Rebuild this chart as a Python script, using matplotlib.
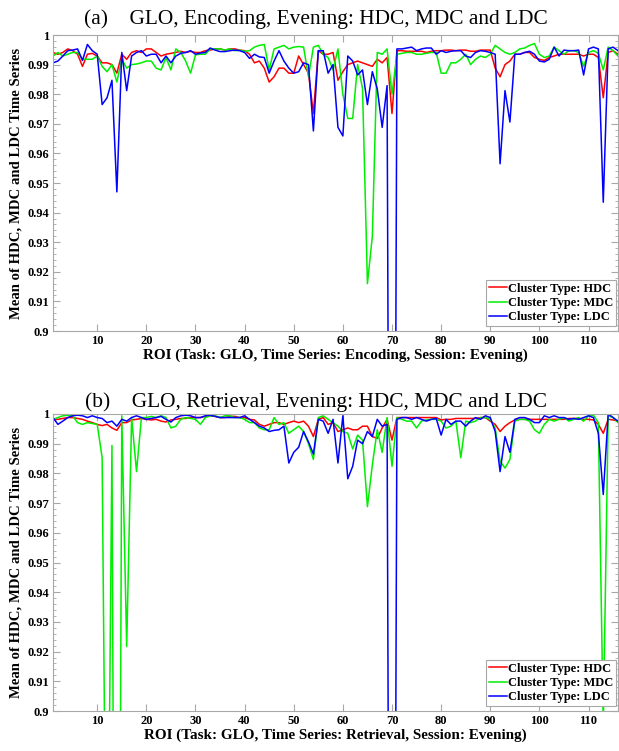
import matplotlib
matplotlib.use('Agg')
import matplotlib.pyplot as plt
import numpy as np
from matplotlib.ticker import AutoMinorLocator, FormatStrFormatter, MultipleLocator

plt.rcParams['font.family'] = ['Liberation Serif', 'DejaVu Serif']

roi = np.arange(1, 117)
labels = ['Cluster Type: HDC', 'Cluster Type: MDC', 'Cluster Type: LDC']
colors = ['#ff0000', '#00ee00', '#0000ff']

# (a) Encoding
enc_hdc = [0.9941, 0.9935, 0.9941, 0.9953, 0.9947, 0.9935, 0.9894, 0.9935, 0.9938, 0.9929,
           0.9906, 0.9906, 0.9900, 0.9871, 0.9935, 0.9918, 0.9941, 0.9947, 0.9941, 0.9953,
           0.9953, 0.9941, 0.9929, 0.9935, 0.9938, 0.9941, 0.9945, 0.9941, 0.9945, 0.9941,
           0.9941, 0.9947, 0.9949, 0.9953, 0.9953, 0.9949, 0.9953, 0.9953, 0.9949, 0.9947,
           0.9935, 0.9906, 0.9912, 0.9888, 0.9841, 0.9859, 0.9888, 0.9888, 0.9871, 0.9871,
           0.9929, 0.9900, 0.9871, 0.9735, 0.9947, 0.9935, 0.9935, 0.9941, 0.9847, 0.9876,
           0.9900, 0.9906, 0.9912, 0.9906, 0.9900, 0.9894, 0.9918, 0.9906, 0.9924, 0.9735,
           0.9947, 0.9947, 0.9945, 0.9945, 0.9945, 0.9945, 0.9941, 0.9945, 0.9947, 0.9947,
           0.9949, 0.9949, 0.9947, 0.9949, 0.9949, 0.9945, 0.9945, 0.9949, 0.9949, 0.9949,
           0.9888, 0.9859, 0.9900, 0.9912, 0.9935, 0.9935, 0.9941, 0.9941, 0.9924, 0.9918,
           0.9914, 0.9924, 0.9929, 0.9935, 0.9935, 0.9935, 0.9935, 0.9935, 0.9929, 0.9935,
           0.9935, 0.9924, 0.9788, 0.9941, 0.9947, 0.9935]
enc_mdc = [0.9929, 0.9941, 0.9929, 0.9935, 0.9941, 0.9941, 0.9918, 0.9918, 0.9918, 0.9929,
           0.9894, 0.9876, 0.9900, 0.9841, 0.9918, 0.9888, 0.9900, 0.9902, 0.9906, 0.9912,
           0.9912, 0.9888, 0.9882, 0.9924, 0.9882, 0.9953, 0.9941, 0.9912, 0.9871, 0.9933,
           0.9935, 0.9935, 0.9953, 0.9953, 0.9953, 0.9949, 0.9953, 0.9947, 0.9949, 0.9945,
           0.9947, 0.9959, 0.9965, 0.9968, 0.9882, 0.9953, 0.9959, 0.9965, 0.9953, 0.9959,
           0.9961, 0.9959, 0.9859, 0.9959, 0.9965, 0.9935, 0.9924, 0.9882, 0.9953, 0.9800,
           0.9718, 0.9718, 0.9900, 0.9820, 0.9160, 0.9320, 0.9941, 0.9935, 0.9953, 0.9800,
           0.9935, 0.9938, 0.9941, 0.9941, 0.9935, 0.9935, 0.9938, 0.9941, 0.9941, 0.9871,
           0.9871, 0.9906, 0.9906, 0.9918, 0.9935, 0.9900, 0.9918, 0.9929, 0.9924, 0.9935,
           0.9965, 0.9953, 0.9941, 0.9935, 0.9941, 0.9953, 0.9956, 0.9965, 0.9971, 0.9935,
           0.9924, 0.9929, 0.9959, 0.9947, 0.9935, 0.9947, 0.9947, 0.9941, 0.9894, 0.9941,
           0.9947, 0.9938, 0.9882, 0.9959, 0.9947, 0.9929]
enc_ldc = [0.9906, 0.9912, 0.9929, 0.9947, 0.9949, 0.9953, 0.9914, 0.9968, 0.9947, 0.9935,
           0.9765, 0.9788, 0.9847, 0.9470, 0.9941, 0.9812, 0.9929, 0.9941, 0.9947, 0.9929,
           0.9935, 0.9935, 0.9906, 0.9929, 0.9906, 0.9929, 0.9938, 0.9941, 0.9947, 0.9935,
           0.9939, 0.9941, 0.9956, 0.9949, 0.9944, 0.9944, 0.9947, 0.9949, 0.9947, 0.9941,
           0.9921, 0.9935, 0.9926, 0.9924, 0.9871, 0.9912, 0.9947, 0.9912, 0.9888, 0.9871,
           0.9876, 0.9906, 0.9900, 0.9676, 0.9947, 0.9947, 0.9871, 0.9900, 0.9688, 0.9659,
           0.9929, 0.9912, 0.9865, 0.9882, 0.9765, 0.9876, 0.9818, 0.9688, 0.9829, 0.5500,
           0.9953, 0.9953, 0.9956, 0.9959, 0.9947, 0.9953, 0.9956, 0.9956, 0.9935, 0.9947,
           0.9941, 0.9945, 0.9947, 0.9947, 0.9929, 0.9924, 0.9941, 0.9947, 0.9945, 0.9941,
           0.9935, 0.9565, 0.9812, 0.9706, 0.9935, 0.9935, 0.9941, 0.9945, 0.9935, 0.9912,
           0.9909, 0.9918, 0.9959, 0.9929, 0.9949, 0.9947, 0.9947, 0.9949, 0.9865, 0.9953,
           0.9959, 0.9953, 0.9435, 0.9953, 0.9959, 0.9947]

# (b) Retrieval
ret_hdc = [0.9982, 0.9982, 0.9985, 0.9988, 0.9988, 0.9985, 0.9982, 0.9976, 0.9971, 0.9965,
           0.9961, 0.9965, 0.9953, 0.9945, 0.9971, 0.9971, 0.9980, 0.9982, 0.9985, 0.9982,
           0.9980, 0.9982, 0.9976, 0.9973, 0.9980, 0.9982, 0.9985, 0.9985, 0.9988, 0.9988,
           0.9988, 0.9992, 0.9994, 0.9992, 0.9988, 0.9988, 0.9992, 0.9992, 0.9988, 0.9988,
           0.9982, 0.9980, 0.9965, 0.9959, 0.9965, 0.9971, 0.9971, 0.9965, 0.9971, 0.9976,
           0.9971, 0.9976, 0.9959, 0.9924, 0.9982, 0.9988, 0.9965, 0.9971, 0.9941, 0.9947,
           0.9953, 0.9947, 0.9947, 0.9959, 0.9959, 0.9924, 0.9918, 0.9953, 0.9982, 0.9912,
           0.9988, 0.9988, 0.9988, 0.9988, 0.9988, 0.9988, 0.9988, 0.9988, 0.9988, 0.9980,
           0.9982, 0.9982, 0.9985, 0.9985, 0.9985, 0.9985, 0.9985, 0.9988, 0.9988, 0.9976,
           0.9965, 0.9941, 0.9959, 0.9971, 0.9980, 0.9982, 0.9982, 0.9982, 0.9982, 0.9982,
           0.9982, 0.9982, 0.9982, 0.9982, 0.9982, 0.9985, 0.9985, 0.9985, 0.9982, 0.9982,
           0.9980, 0.9965, 0.9935, 0.9982, 0.9980, 0.9976]
ret_mdc = [0.9982, 0.9988, 0.9994, 0.9996, 0.9994, 0.9971, 0.9965, 0.9971, 0.9968, 0.9965,
           0.9853, 0.8000, 0.9894, 0.6000, 0.9994, 0.9217, 0.9988, 0.9806, 0.9988, 0.9988,
           0.9992, 0.9988, 0.9994, 0.9988, 0.9953, 0.9959, 0.9982, 0.9988, 0.9985, 0.9982,
           0.9965, 0.9988, 0.9994, 0.9994, 0.9988, 0.9994, 0.9994, 0.9988, 0.9988, 0.9982,
           0.9971, 0.9971, 0.9953, 0.9947, 0.9947, 0.9988, 0.9965, 0.9971, 0.9935, 0.9947,
           0.9959, 0.9941, 0.9900, 0.9847, 0.9988, 0.9994, 0.9982, 0.9971, 0.9959, 0.9941,
           0.9935, 0.9882, 0.9929, 0.9912, 0.9688, 0.9829, 0.9947, 0.9871, 0.9988, 0.9824,
           0.9988, 0.9982, 0.9976, 0.9976, 0.9953, 0.9976, 0.9980, 0.9982, 0.9982, 0.9976,
           0.9953, 0.9959, 0.9976, 0.9853, 0.9976, 0.9971, 0.9976, 0.9988, 0.9988, 0.9982,
           0.9953, 0.9841, 0.9818, 0.9847, 0.9976, 0.9982, 0.9982, 0.9976, 0.9947, 0.9935,
           0.9965, 0.9982, 0.9976, 0.9982, 0.9988, 0.9976, 0.9982, 0.9988, 0.9976, 0.9994,
           0.9996, 0.9971, 0.8950, 0.9994, 0.9988, 0.9971]
ret_ldc = [0.9988, 0.9965, 0.9976, 0.9988, 0.9994, 0.9996, 0.9994, 0.9988, 0.9994, 0.9988,
           0.9985, 0.9971, 0.9976, 0.9959, 0.9982, 0.9976, 0.9988, 0.9994, 0.9988, 0.9982,
           0.9985, 0.9988, 0.9992, 0.9982, 0.9973, 0.9988, 0.9994, 0.9996, 0.9994, 0.9988,
           0.9988, 0.9994, 0.9996, 0.9992, 0.9988, 0.9988, 0.9988, 0.9988, 0.9988, 0.9994,
           0.9982, 0.9971, 0.9959, 0.9953, 0.9941, 0.9945, 0.9947, 0.9959, 0.9835, 0.9871,
           0.9888, 0.9941, 0.9906, 0.9865, 0.9982, 0.9976, 0.9935, 0.9982, 0.9835, 0.9994,
           0.9782, 0.9824, 0.9912, 0.9900, 0.9941, 0.9924, 0.9982, 0.9959, 0.9965, 0.5500,
           0.9982, 0.9988, 0.9988, 0.9982, 0.9988, 0.9982, 0.9976, 0.9982, 0.9985, 0.9929,
           0.9982, 0.9965, 0.9976, 0.9976, 0.9959, 0.9976, 0.9988, 0.9982, 0.9994, 0.9988,
           0.9941, 0.9806, 0.9924, 0.9871, 0.9982, 0.9988, 0.9988, 0.9982, 0.9971, 0.9971,
           0.9994, 0.9988, 0.9994, 0.9988, 0.9988, 0.9982, 0.9985, 0.9982, 0.9988, 0.9994,
           0.9988, 0.9935, 0.9729, 1.0000, 0.9988, 0.9976]

panels = [
    ('(a)    GLO, Encoding, Evening: HDC, MDC and LDC',
     'ROI (Task: GLO, Time Series: Encoding, Session: Evening)',
     [enc_hdc, enc_mdc, enc_ldc], [53 / 619, 1 - 331 / 751, 565 / 619, 296 / 751], 8),
    ('(b)    GLO, Retrieval, Evening: HDC, MDC and LDC',
     'ROI (Task: GLO, Time Series: Retrieval, Session: Evening)',
     [ret_hdc, ret_mdc, ret_ldc], [53 / 619, 1 - 711 / 751, 565 / 619, 297 / 751], 5),
]

fig = plt.figure(figsize=(6.19, 7.51), dpi=100)
grey = '#a8a8a8'

for title, xlabel, series, rect, pad in panels:
    ax = fig.add_axes(rect)
    for vals, c, lab in zip(series, colors, labels):
        ax.plot(roi, vals, color=c, lw=1.1, label=lab)
    ax.set_xlim(1, 116)
    ax.set_ylim(0.9, 1.0)
    ax.xaxis.set_major_locator(MultipleLocator(10))
    ax.yaxis.set_major_locator(MultipleLocator(0.01))
    ax.yaxis.set_minor_locator(AutoMinorLocator(5))
    ax.yaxis.set_major_formatter(FormatStrFormatter('%g'))
    ax.tick_params(direction='in', top=True, right=True, which='both',
                   color=grey, labelsize=9, pad=3)
    ax.tick_params(which='major', length=5)
    ax.tick_params(which='minor', length=2.5)
    for lbl in ax.get_xticklabels() + ax.get_yticklabels():
        lbl.set_fontweight('bold')
    for sp in ax.spines.values():
        sp.set_color(grey)
        sp.set_linewidth(0.8)
    ax.set_title(title, fontsize=15.4, pad=pad, x=0.465)
    ax.set_xlabel(xlabel, fontsize=10.9, fontweight='bold', labelpad=1)
    ax.set_ylabel('Mean of HDC, MDC and LDC Time Series', fontsize=10.6,
                  fontweight='bold', labelpad=3)
    leg = ax.legend(loc='lower right', bbox_to_anchor=(0.9965, 0.017),
                    prop={'weight': 'bold', 'size': 9},
                    fancybox=False, framealpha=1, edgecolor=grey,
                    handlelength=1.45, handletextpad=0.1, labelspacing=0.18,
                    borderpad=0.22, borderaxespad=0)
    leg.get_frame().set_linewidth(0.8)

plt.savefig('out.png', dpi=100)
